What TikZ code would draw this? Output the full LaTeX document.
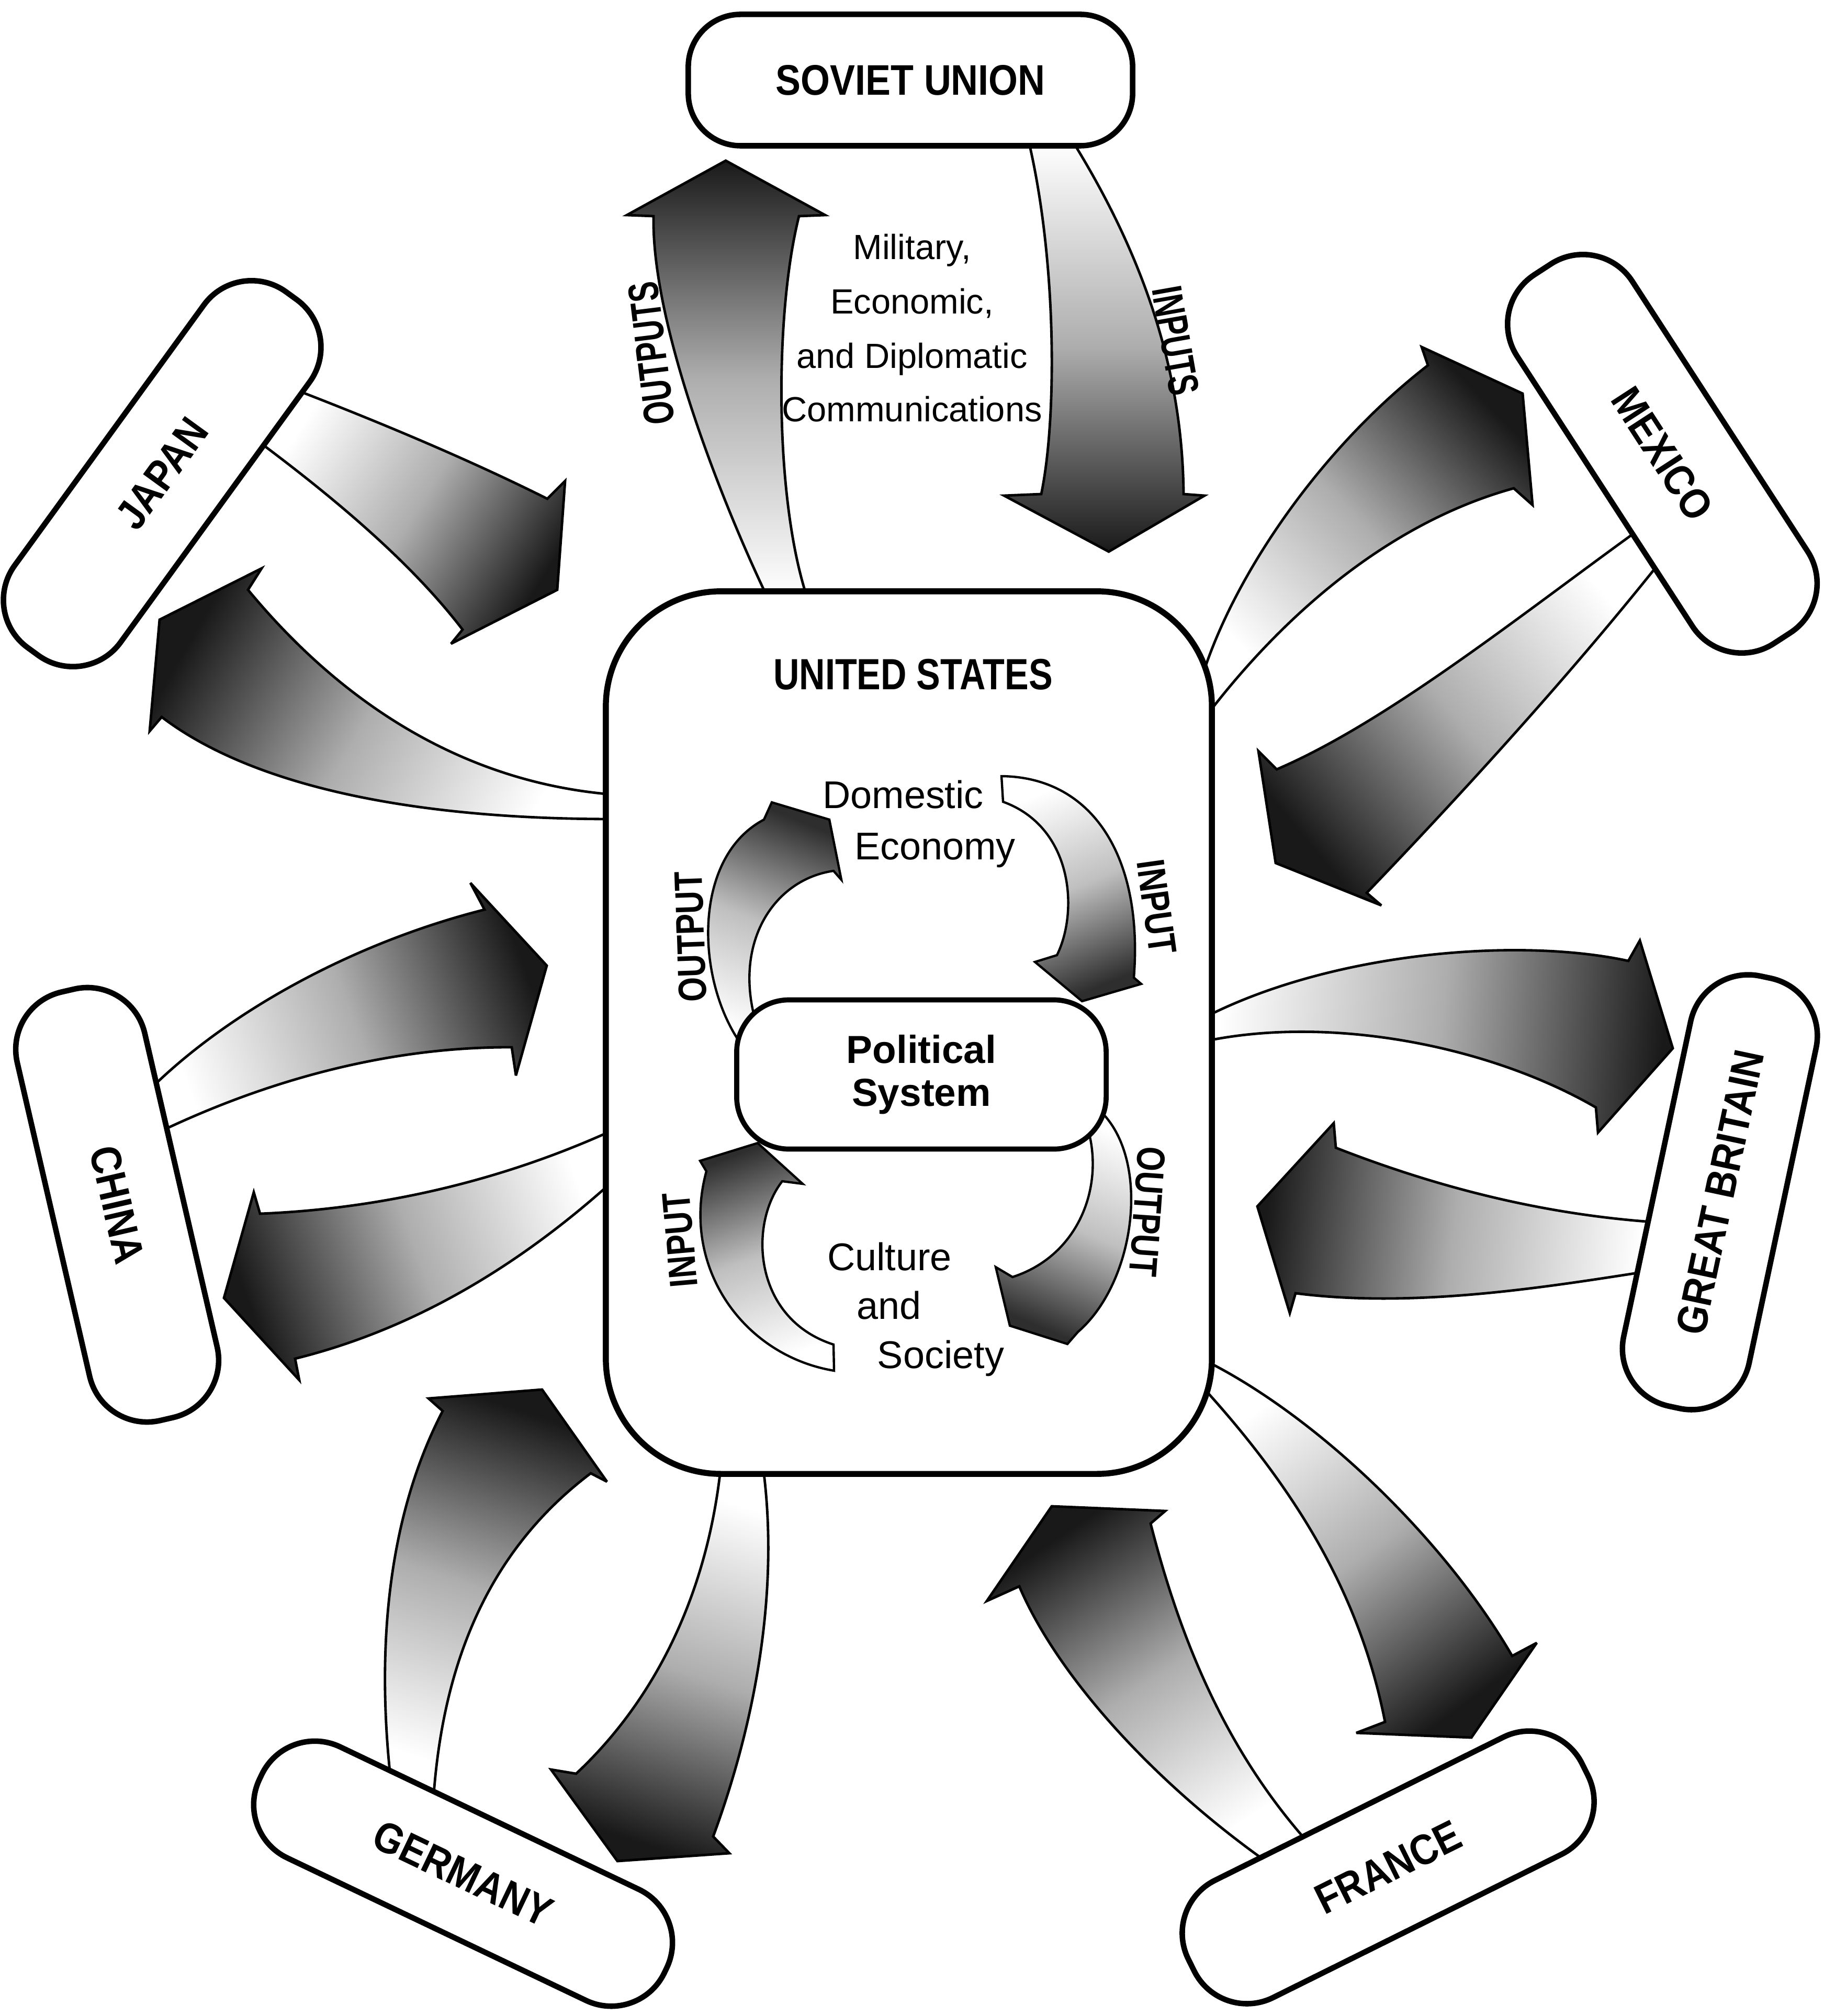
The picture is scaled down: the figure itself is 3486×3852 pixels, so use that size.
\documentclass[tikz,border=0pt]{standalone}
\usepackage{fontspec}
\setmainfont{Liberation Sans}
\newfontfamily\cbold[FakeStretch=0.88]{Liberation Sans}
\newfontfamily\tbold[FakeStretch=0.82]{Liberation Sans}
\newfontfamily\nbold[FakeStretch=0.70]{Liberation Sans}
\newfontfamily\ibold[FakeStretch=0.80]{Liberation Sans}
\begin{document}
\begin{tikzpicture}[x=0.04mm,y=-0.04mm,
  cbox/.style={draw, line width=1.2pt, fill=white, rounded corners=4.5mm,
    minimum width=33.6mm, minimum height=10mm, inner sep=0pt,
    font=\cbold\bfseries\fontsize{9.3pt}{11pt}\selectfont},
  flow/.style={draw=black, line width=0.55pt, line join=miter, miter limit=4,
    top color=black!90, bottom color=white, middle color=black!32, shading angle=#1},
  sflow/.style={draw=black, line width=0.5pt, line join=miter, miter limit=4,
    top color=black!82, bottom color=white, middle color=black!25, shading angle=#1},
  rtext/.style={font=\fontsize{7.6pt}{9pt}\selectfont, inner sep=0pt, anchor=base},
  etext/.style={font=\fontsize{8.4pt}{10pt}\selectfont, inner sep=0pt, anchor=base},
  slabel/.style={font=\nbold\bfseries\fontsize{9.3pt}{11pt}\selectfont, inner sep=0pt},
  ilabel/.style={font=\ibold\bfseries\fontsize{8.6pt}{10pt}\selectfont, inner sep=0pt}]

\fill[white] (0,0) rectangle (3486,3852);
\useasboundingbox (0,0) rectangle (3486,3852);

% ---------- outer arrows ----------
% Soviet Union: outputs (up)
\draw[flow=0] (1466,1140) .. controls (1380,960) and (1245,620) .. (1249,413)
  -- (1198,411) -- (1387,307) -- (1577,411) -- (1527,413)
  .. controls (1480,600) and (1480,950) .. (1542,1140) -- cycle;
% Soviet Union: inputs (down)
\draw[flow=180] (1966,270) .. controls (2020,500) and (2020,800) .. (1990,944)
  -- (1919,947) -- (2119,1054) -- (2302,947) -- (2262,944)
  .. controls (2260,700) and (2180,480) .. (2050,270) -- cycle;
% Japan -> US
\draw[flow=-122] (568,746) .. controls (760,820) and (920,890) .. (1046,953)
  -- (1080,919) -- (1065,1127) -- (862,1230) -- (884,1203)
  .. controls (790,1080) and (650,960) .. (496,845) -- cycle;
% US -> Japan
\draw[flow=60] (1170,1518) .. controls (950,1500) and (700,1400) .. (474,1127)
  -- (500,1086) -- (305,1184) -- (286,1397) -- (309,1370)
  .. controls (480,1500) and (780,1565) .. (1170,1565) -- cycle;
% US -> Mexico
\draw[flow=-46] (2310,1362) .. controls (2450,1180) and (2650,1000) .. (2893,933)
  -- (2929,965) -- (2910,752) -- (2717,663) -- (2729,698)
  .. controls (2520,860) and (2360,1100) .. (2300,1285) -- cycle;
% Mexico -> US
\draw[flow=130] (3124,1018) .. controls (2900,1180) and (2650,1380) .. (2440,1470)
  -- (2405,1435) -- (2438,1649) -- (2640,1730) -- (2612,1706)
  .. controls (2800,1510) and (3000,1290) .. (3167,1081) -- cycle;
% China -> US
\draw[flow=-70] (287,2081) .. controls (440,1930) and (680,1800) .. (926,1738)
  -- (899,1687) -- (1045,1845) -- (986,2055) -- (978,2001)
  .. controls (750,2000) and (520,2060) .. (306,2162) -- cycle;
% US -> China
\draw[flow=110] (1170,2160) .. controls (950,2260) and (720,2310) .. (497,2319)
  -- (485,2278) -- (428,2480) -- (572,2637) -- (564,2596)
  .. controls (790,2540) and (990,2420) .. (1170,2258) -- cycle;
% US -> Great Britain
\draw[flow=-95] (2310,1940) .. controls (2550,1820) and (2900,1790) .. (3112,1836)
  -- (3134,1797) -- (3197,2003) -- (3054,2164) -- (3050,2116)
  .. controls (2850,2000) and (2550,1940) .. (2310,1988) -- cycle;
% Great Britain -> US
\draw[flow=84] (3160,2335) .. controls (2950,2320) and (2750,2270) .. (2553,2193)
  -- (2549,2146) -- (2403,2305) -- (2465,2509) -- (2476,2471)
  .. controls (2700,2500) and (2950,2460) .. (3137,2431) -- cycle;
% Germany -> US
\draw[flow=-18] (746,3394) .. controls (720,3150) and (740,2900) .. (846,2696)
  -- (819,2672) -- (1036,2655) -- (1160,2831) -- (1129,2815)
  .. controls (950,2950) and (850,3150) .. (829,3428) -- cycle;
% US -> Germany
\draw[flow=162] (1377,2808) .. controls (1350,3050) and (1250,3250) .. (1101,3389)
  -- (1053,3381) -- (1180,3556) -- (1394,3541) -- (1363,3509)
  .. controls (1440,3300) and (1490,3050) .. (1459,2808) -- cycle;
% France -> US
\draw[flow=34] (2416,3554) .. controls (2200,3400) and (2020,3200) .. (1948,3031)
  -- (1886,3059) -- (2010,2878) -- (2227,2887) -- (2199,2911)
  .. controls (2260,3150) and (2350,3350) .. (2495,3515) -- cycle;
% US -> France
\draw[flow=-144] (2300,2652) .. controls (2480,2850) and (2600,3050) .. (2647,3290)
  -- (2592,3311) -- (2812,3320) -- (2937,3139) -- (2890,3164)
  .. controls (2760,2940) and (2520,2710) .. (2310,2603) -- cycle;

% ---------- country boxes ----------
\node[cbox, minimum width=33.96mm, minimum height=10.04mm, rounded corners=4mm] (su) at (1740,153) {SOVIET UNION};
\node[cbox, rotate=54] (jp) at (310,905) {JAPAN};
\node[cbox, rotate=-57, minimum height=10.5mm] (mx) at (3177,867) {MEXICO};
\node[cbox, rotate=-77] (cn) at (224,2302) {CHINA};
\node[cbox, rotate=78, minimum height=9.8mm] (gb) at (3287,2278) {GREAT BRITAIN};
\node[cbox, rotate=-25.5, minimum width=34.3mm, minimum height=9.4mm] (de) at (885,3580) {GERMANY};
\node[cbox, rotate=26.4] (fr) at (2653,3568) {FRANCE};

% ---------- United States ----------
\node[draw, line width=1.3pt, fill=white, rounded corners=8.8mm,
  minimum width=46.32mm, minimum height=67.44mm, inner sep=0pt] (us) at (1737,1973) {};
\node[font=\tbold\bfseries\fontsize{9.5pt}{11pt}\selectfont, inner sep=0pt] (ust) at (1745,1289) {UNITED STATES};

% inner arrows
\draw[sflow=-22] (1420,2000) .. controls (1330,1880) and (1320,1640) .. (1460,1566)
  -- (1475,1533) -- (1585,1566) -- (1608,1681) -- (1593,1664)
  .. controls (1480,1680) and (1400,1800) .. (1445,1955) -- cycle;
\draw[sflow=-158] (1914,1483) .. controls (2090,1485) and (2185,1640) .. (2167,1868)
  -- (2181,1880) -- (2068,1913) -- (1978,1838) -- (2020,1825)
  .. controls (2062,1740) and (2050,1580) .. (1917,1532) -- cycle;
\draw[sflow=157] (2105,2125) .. controls (2200,2220) and (2170,2450) .. (2060,2545)
  -- (2040,2568) -- (1930,2533) -- (1903,2421) -- (1935,2440)
  .. controls (2060,2400) and (2110,2270) .. (2080,2160) -- cycle;
\draw[sflow=20] (1594,2619) .. controls (1420,2590) and (1300,2420) .. (1350,2238)
  -- (1338,2218) -- (1448,2184) -- (1534,2262) -- (1495,2257)
  .. controls (1430,2340) and (1440,2520) .. (1593,2569) -- cycle;

\node[draw, line width=1.1pt, fill=white, rounded corners=4mm,
  minimum width=28.24mm, minimum height=11.4mm, align=center, inner sep=0pt,
  font=\bfseries\fontsize{8.5pt}{9.4pt}\selectfont] (ps) at (1761,2053) {Political\\System};

% ---------- texts ----------
\node[rtext] (m1) at (1743,496) {Military,};
\node[rtext] (m2) at (1743,600) {Economic,};
\node[rtext] (m3) at (1743,704) {and Diplomatic};
\node[rtext] (m4) at (1743,806) {Communications};

\node[etext] (de1) at (1726,1544) {Domestic};
\node[etext] (de2) at (1787,1642) {Economy};
\node[etext] (cs1) at (1700,2427) {Culture};
\node[etext] (cs2) at (1699,2520) {and};
\node[etext] (cs3) at (1798,2614) {Society};

\node[slabel, rotate=97] (lo) at (1245,675) {OUTPUTS};
\node[slabel, rotate=-80] (li) at (2247,651) {INPUTS};
\node[ilabel, rotate=92] (io1) at (1320,1790) {OUTPUT};
\node[ilabel, rotate=-82] (ii1) at (2210,1733) {INPUT};
\node[ilabel, rotate=-94] (io2) at (2193,2315) {OUTPUT};
\node[ilabel, rotate=95] (ii2) at (1300,2369) {INPUT};
\end{tikzpicture}
\end{document}
